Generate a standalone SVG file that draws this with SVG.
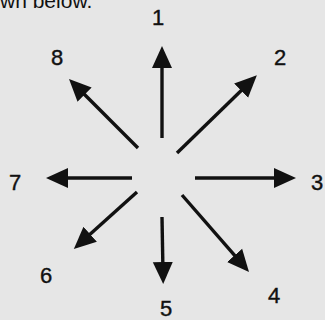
<svg xmlns="http://www.w3.org/2000/svg" width="325" height="320" viewBox="0 0 325 320">
<defs>
<style>
.lbl{font-family:"Liberation Sans",Arial,sans-serif;font-size:22px;fill:#111;text-anchor:middle;stroke:#111;stroke-width:0.4}
.ar{stroke:#111;stroke-width:3.4;fill:none;marker-end:url(#ah)}
</style>
<marker id="ah" viewBox="0 0 22 22" markerWidth="22" markerHeight="22" refX="11" refY="11" orient="auto" markerUnits="userSpaceOnUse">
<path d="M0,1 L22,11 L0,21 z" fill="#111"/>
</marker>
</defs>
<rect width="325" height="320" fill="#e6e6e6"/>
<text x="0" y="8" font-family="'Liberation Sans',Arial,sans-serif" font-size="21" fill="#111">wn below.</text>
<g id="connectors">
<line class="ar" x1="162" y1="138" x2="162" y2="57"/>
<line class="ar" x1="177" y1="153" x2="249" y2="83"/>
<line class="ar" x1="195" y1="178" x2="285" y2="178"/>
<line class="ar" x1="182" y1="195" x2="241.8" y2="263.7"/>
<line class="ar" x1="162" y1="217" x2="163" y2="273"/>
<line class="ar" x1="137" y1="192" x2="82" y2="241.6"/>
<line class="ar" x1="132" y1="178" x2="57" y2="178"/>
<line class="ar" x1="138" y1="148" x2="76.8" y2="86.8"/>
</g>
<g id="n1"><text class="lbl" x="158" y="25">1</text></g>
<g id="n2"><text class="lbl" x="280" y="65">2</text></g>
<g id="n3"><text class="lbl" x="317" y="190">3</text></g>
<g id="n4"><text class="lbl" x="274" y="303">4</text></g>
<g id="n5"><text class="lbl" x="166" y="316">5</text></g>
<g id="n6"><text class="lbl" x="46" y="283">6</text></g>
<g id="n7"><text class="lbl" x="15" y="190">7</text></g>
<g id="n8"><text class="lbl" x="57" y="65">8</text></g>
</svg>
